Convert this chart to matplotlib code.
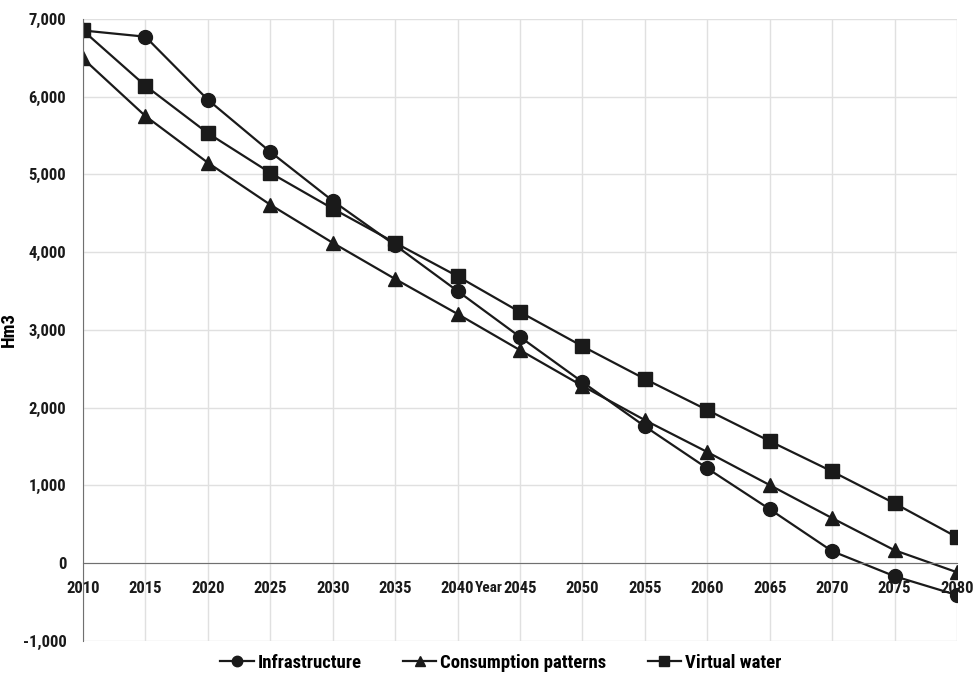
import matplotlib.pyplot as plt
from matplotlib import font_manager

years = [2010, 2015, 2020, 2025, 2030, 2035, 2040, 2045, 2050, 2055, 2060, 2065, 2070, 2075, 2080]
infrastructure = [6850, 6770, 5960, 5290, 4660, 4090, 3500, 2910, 2330, 1760, 1220, 695, 155, -167, -410]
consumption = [6490, 5750, 5150, 4610, 4120, 3655, 3205, 2740, 2280, 1840, 1430, 1005, 580, 167, -116]
virtual_water = [6850, 6140, 5530, 5020, 4560, 4120, 3690, 3230, 2790, 2370, 1970, 1570, 1180, 770, 335]

# narrow font if we have one (reference looks like Calibri bold)
names = {f.name for f in font_manager.fontManager.ttflist}
fam = 'DejaVu Sans'
for cand in ['Liberation Sans Narrow', 'DejaVu Sans Condensed', 'Roboto Condensed', 'Open Sans Condensed', 'Liberation Sans']:
    if cand in names:
        fam = cand
        break
plt.rcParams['font.family'] = [fam, 'DejaVu Sans']

fig = plt.figure(figsize=(9.76, 6.77), dpi=100)
ax = fig.add_axes([0.085, 0.0532, 0.8955, 0.919])

ax.plot(years, infrastructure, color='#1a1a1a', lw=1.6, marker='o', ms=10, label='Infrastructure')
ax.plot(years, consumption, color='#1a1a1a', lw=1.6, marker='^', ms=10, label='Consumption patterns')
ax.plot(years, virtual_water, color='#1a1a1a', lw=1.6, marker='s', ms=9.5, label='Virtual water')

ax.set_xlim(2010, 2080)
ax.set_ylim(-1000, 7000)
ax.set_xticks(years)
ax.set_yticks(range(-1000, 7001, 1000))
ax.set_yticklabels([f'{v:,}' for v in range(-1000, 7001, 1000)])
ax.grid(True, color='#e0e0e0', lw=1)
ax.set_axisbelow(True)

for s in ['top', 'right']:
    ax.spines[s].set_visible(False)
ax.spines['bottom'].set_position(('data', 0))
ax.spines['bottom'].set_color('#707070')
ax.spines['left'].set_color('#707070')
ax.tick_params(length=0, labelsize=12)
ax.tick_params(axis='x', pad=13)
ax.tick_params(axis='y', pad=12)
for lab in ax.get_xticklabels() + ax.get_yticklabels():
    lab.set_fontweight('bold')
    lab.set_color('#1a1a1a')

ax.set_ylabel('Hm3', fontsize=13.5, fontweight='bold')
ax.yaxis.set_label_coords(-0.074, 0.5)
ax.annotate('Year', xy=(2041.4, 0), xytext=(0, -18), textcoords='offset points',
            ha='left', va='center', fontsize=11, fontweight='bold', color='#1a1a1a')

fig.legend(loc='center', bbox_to_anchor=(0.513, 0.021), ncol=3, frameon=False,
           prop={'size': 13.5, 'weight': 'bold'}, handlelength=1.8, handletextpad=0.2,
           columnspacing=2.2, markerscale=0.75, borderpad=0.1)

fig.savefig('out.png', dpi=100)
